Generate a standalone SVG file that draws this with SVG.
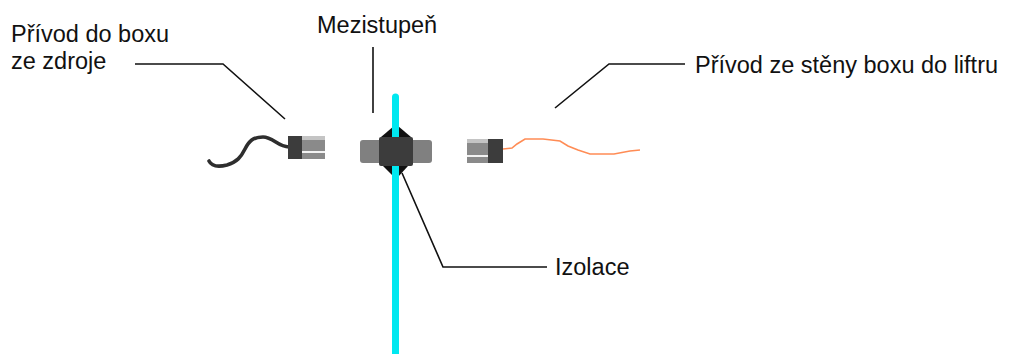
<svg xmlns="http://www.w3.org/2000/svg" width="1011" height="354" viewBox="0 0 1011 354">
  <style>
    .lbl { font-family: "Liberation Sans", Arial, sans-serif; font-size: 23.5px; fill: #111; }
    .lead { fill: none; stroke: #111; stroke-width: 1.6; }
    .block { fill: #3c3c3c; }
    .pin { fill: #8a8a8a; }
    .pinhi { fill: #c4c4c4; }
    .pingap { fill: #f2f2f2; }
  </style>
  <rect width="1011" height="354" fill="#ffffff"/>

  <!-- conductor passing through the wall -->
  <g id="conductor">
    <line x1="395.5" y1="97" x2="395.5" y2="354" stroke="#00e8f0" stroke-width="7" stroke-linecap="round"/>
  </g>

  <!-- intermediate stage with insulation collar -->
  <g id="mezistupen">
    <rect x="360" y="140" width="72" height="23" rx="3" fill="#808080"/>
    <polygon points="381,137 394,126 398,126 411,137" fill="#111"/>
    <polygon points="383,166 394,177 398,177 408,166" fill="#111"/>
    <rect class="block" x="379" y="137" width="34" height="29" rx="2"/>
    <line x1="395.5" y1="126" x2="395.5" y2="137" stroke="#00e8f0" stroke-width="7"/>
    <line x1="395.5" y1="166" x2="395.5" y2="180" stroke="#00e8f0" stroke-width="7"/>
  </g>

  <!-- source side lead with plug -->
  <g id="privod-zdroj">
    <path d="M209,161 C212,167 219,167 227,165 C237,162 241,157 245,149 C249,141 253,137 263,137 C273,137 278,147 289,147" fill="none" stroke="#2e2e2e" stroke-width="3.6" stroke-linecap="round"/>
    <rect class="pin" x="302" y="136" width="23" height="23"/>
    <rect class="pinhi" x="302" y="136" width="23" height="4"/>
    <rect class="pingap" x="302" y="151" width="23" height="2"/>
    <rect class="block" x="288" y="136" width="14" height="23"/>
  </g>

  <!-- lead from the box wall to the lift -->
  <g id="privod-lift">
    <path d="M503,149 L512,148 L517,144 L525,139 L543,139 L560,141 L568,146 L578,150 L590,154 L614,154 L630,151 L640,150" fill="none" stroke="#ff8c55" stroke-width="1.6"/>
    <rect class="pin" x="467" y="139" width="21" height="24"/>
    <rect class="pinhi" x="467" y="139" width="21" height="4"/>
    <rect class="pingap" x="467" y="155" width="21" height="2"/>
    <rect class="block" x="488" y="139" width="15" height="24"/>
  </g>

  <!-- leader lines -->
  <g id="connectors">
    <polyline class="lead" points="135,64 223,64 285,119"/>
    <line class="lead" x1="373" y1="47" x2="373" y2="113"/>
    <polyline class="lead" points="685,64 609,64 555,108"/>
    <polyline class="lead" points="402,173 443,267 547,267"/>
  </g>

  <!-- labels -->
  <g id="label-zdroj">
    <text class="lbl" x="11" y="42">Přívod do boxu</text>
    <text class="lbl" x="11" y="69">ze zdroje</text>
  </g>
  <g id="label-mezistupen">
    <text class="lbl" x="317" y="33">Mezistupeň</text>
  </g>
  <g id="label-lift">
    <text class="lbl" x="695" y="73">Přívod ze stěny boxu do liftru</text>
  </g>
  <g id="label-izolace">
    <text class="lbl" x="555" y="275">Izolace</text>
  </g>
</svg>
